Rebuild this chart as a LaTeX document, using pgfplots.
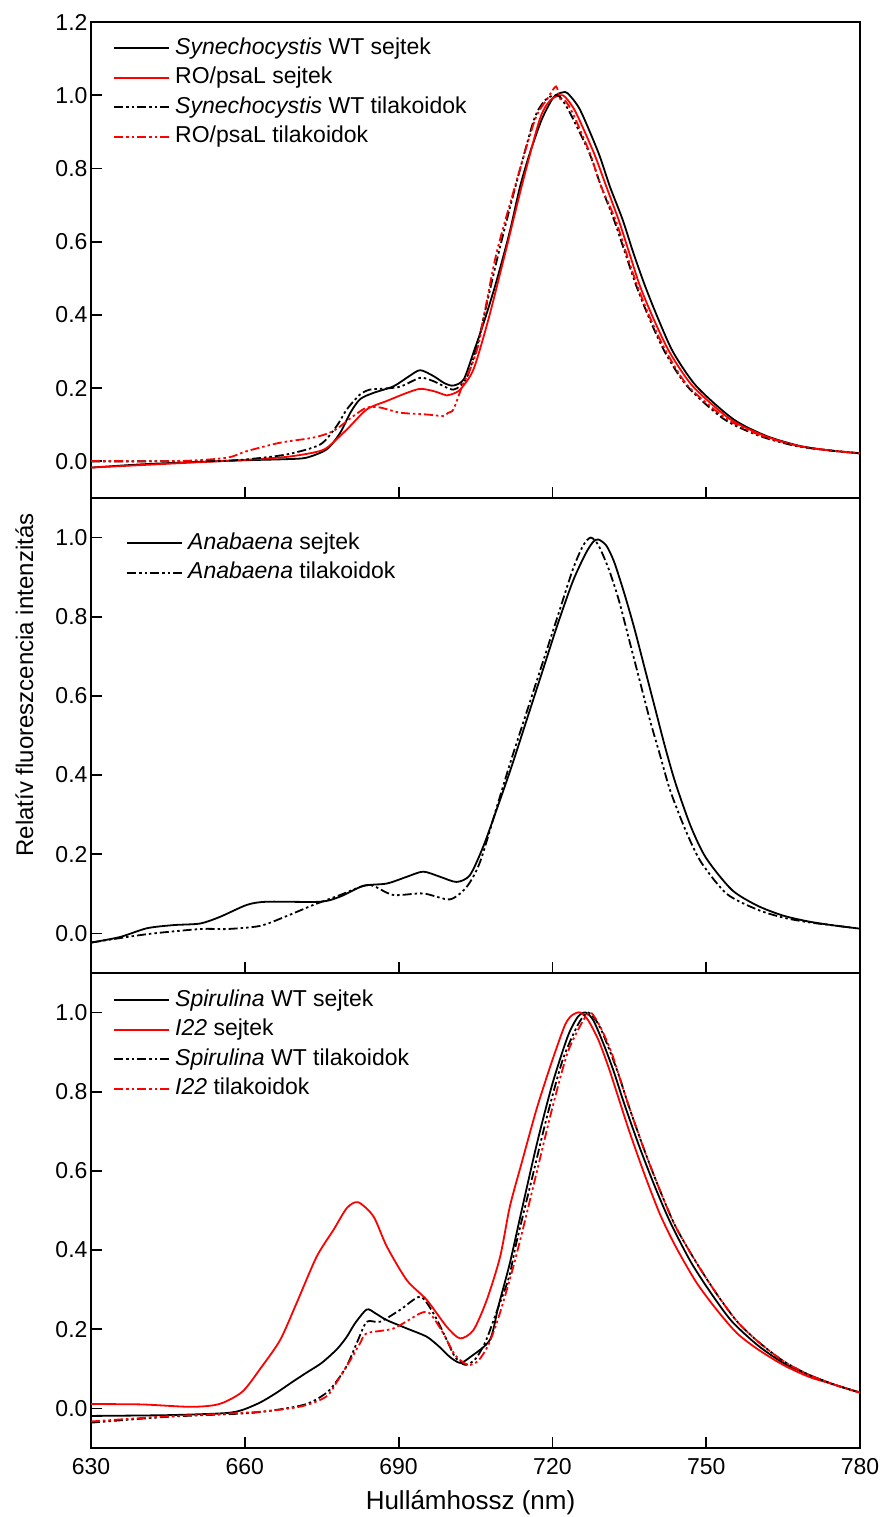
\documentclass[border=0pt]{standalone}
\usepackage{fontspec}
\setmainfont{Liberation Sans}
\usepackage{pgfplots}
\pgfplotsset{compat=1.18}
\tikzset{dd/.style={dash pattern=on 9pt off 3pt on 2.5pt off 3pt on 2.5pt off 3pt}}
\pgfplotsset{
  panel/.style={
    scale only axis, width=769pt, xmin=630, xmax=780,
    axis line style={line width=1.8pt},
    every tick/.style={line width=1.8pt, black},
    major tick length=11pt, tick align=inside,
    xtick={630,660,690,720,750,780}, xtick pos=left, ytick pos=left,
    ticklabel style={font=\fontsize{23}{27}\selectfont},
    /pgf/number format/assume math mode=true,
    yticklabel style={/pgf/number format/.cd, fixed, fixed zerofill, precision=1},
    xticklabel style={yshift=-7pt},
    legend style={draw=none, fill=none, at={(0,1)}, anchor=north west,
      font=\fontsize{23}{27}\selectfont, nodes={text height=17pt, text depth=5pt, inner sep=0pt},
      row sep=7.5pt, column sep=5pt},
    legend cell align=left,
    legend image code/.code={\draw[#1, line width=2pt] (0pt,0pt) -- (55pt,0pt);},
  },
  cv/.style={line width=1.8pt, mark=none, smooth, tension=0.45}
}
\begin{document}
\begin{tikzpicture}
\path[use as bounding box] (0,0) rectangle (882pt,1517pt);
% ---------------- top panel
\begin{axis}[panel, at={(91pt,1019pt)}, anchor=south west, height=476pt,
  ymin=-0.1, ymax=1.2, ytick={0,0.2,0.4,0.6,0.8,1.0,1.2}, xticklabels={},
  legend style={xshift=19pt, yshift=-13pt}]
\addplot[black, cv] coordinates {(630,-0.017)(640,-0.008)(650,-0.002)(660,0.003)(668,0.006)(672,0.010)(676,0.033)(678.6,0.078)(680.6,0.133)(682.5,0.170)(685.1,0.187)(689,0.205)(692,0.232)(694.2,0.249)(696.8,0.233)(699,0.213)(700.7,0.207)(702.7,0.224)(704.6,0.297)(706.8,0.387)(708.8,0.478)(710.6,0.569)(711.9,0.640)(713.7,0.751)(715.6,0.842)(717.9,0.933)(719.9,0.988)(721,1.003)(722.1,1.008)(723,1.005)(725.4,0.960)(729,0.842)(731.2,0.751)(733.7,0.660)(735.8,0.569)(738.1,0.478)(740.7,0.387)(743.6,0.297)(748.1,0.205)(755.3,0.115)(761.8,0.069)(768.3,0.042)(774,0.030)(780,0.022)};
\addlegendentry{\textit{Synechocystis} WT sejtek}
\addplot[red, cv] coordinates {(630,-0.017)(640,-0.010)(650,-0.003)(660,0.004)(668,0.012)(673.4,0.024)(676,0.037)(679.9,0.087)(683.8,0.142)(687.7,0.165)(691.6,0.187)(694.2,0.198)(696.8,0.192)(699.4,0.180)(700.3,0.183)(702,0.196)(704.6,0.251)(707.5,0.387)(710.8,0.569)(714.0,0.751)(717.5,0.933)(719.5,0.985)(721.5,1.0)(722.5,0.995)(724.5,0.955)(728.1,0.842)(730.5,0.751)(732.9,0.660)(735,0.569)(737.1,0.478)(739.8,0.387)(742.9,0.297)(747.4,0.205)(754.7,0.115)(761.5,0.069)(768,0.042)(774,0.030)(780,0.022)};
\addlegendentry{RO/psaL sejtek}
\addplot[black, dd, cv] coordinates {(630,0.0)(640,0.0)(653.9,0.001)(660,0.005)(668.2,0.019)(674.7,0.046)(677.9,0.096)(679.9,0.142)(682.5,0.183)(684.4,0.196)(686.4,0.198)(690.3,0.204)(694.2,0.228)(696.8,0.219)(700.7,0.196)(703.3,0.229)(705.6,0.33)(706.5,0.387)(709.5,0.569)(712.8,0.751)(716.4,0.933)(718.5,0.985)(720.3,1.0)(721.5,0.995)(723.5,0.95)(727.2,0.842)(729.5,0.751)(732,0.660)(734.2,0.569)(736.4,0.478)(739,0.387)(742,0.297)(746.3,0.205)(753.5,0.115)(760.5,0.069)(767.5,0.042)(774,0.030)(780,0.022)};
\addlegendentry{\textit{Synechocystis} WT tilakoidok}
\addplot[red, dd, cv] coordinates {(630,0.001)(647.4,0.001)(656.5,0.010)(660.4,0.028)(666.9,0.051)(673.4,0.065)(677.3,0.083)(681.2,0.124)(683.8,0.147)(686.4,0.147)(690.3,0.133)(695.5,0.128)(698.7,0.124)(699.7,0.133)(700.7,0.142)(702.4,0.205)(704.2,0.26)(705.6,0.32)(706.5,0.387)(709.1,0.569)(712.7,0.751)(716.6,0.933)(719,0.99)(720.7,1.024)(721.5,0.99)(722.5,0.985)(724,0.95)(727.3,0.842)(729.5,0.751)(732.3,0.660)(734.4,0.569)(736.6,0.478)(739.2,0.387)(742.3,0.297)(746.5,0.205)(754.1,0.115)(761,0.069)(768,0.042)(774,0.030)(780,0.022)};
\addlegendentry{RO/psaL tilakoidok}
\end{axis}
% ---------------- middle panel
\begin{axis}[panel, at={(91pt,544pt)}, anchor=south west, height=475pt,
  ymin=-0.1, ymax=1.1, ytick={0,0.2,0.4,0.6,0.8,1.0}, xticklabels={},
  legend style={xshift=32pt, yshift=-32pt}]
\addplot[black, cv] coordinates {(630.1,-0.023)(635.7,-0.009)(640.9,0.013)(646.1,0.021)(651.3,0.025)(655.2,0.042)(660.4,0.072)(664.3,0.080)(674.7,0.080)(678.6,0.093)(683.1,0.120)(687.7,0.126)(691.6,0.143)(694.8,0.156)(698.1,0.143)(701.3,0.130)(703.9,0.147)(706.5,0.219)(709.1,0.312)(712,0.42)(715,0.54)(718,0.66)(721,0.78)(724,0.89)(726.5,0.96)(728,0.99)(729,0.995)(730.5,0.98)(732,0.94)(734,0.86)(736,0.77)(738,0.67)(740,0.57)(742,0.47)(744,0.38)(747,0.27)(750,0.19)(755,0.11)(760,0.07)(765,0.045)(770,0.03)(775,0.02)(780,0.012)};
\addlegendentry{\textit{Anabaena} sejtek}
\addplot[black, dd, cv] coordinates {(630.1,-0.023)(640.9,-0.002)(651.3,0.011)(656.5,0.011)(663,0.019)(668.2,0.044)(673.4,0.072)(678.6,0.097)(683.1,0.120)(685.1,0.120)(689,0.097)(694.8,0.101)(700,0.086)(703.3,0.118)(705.9,0.181)(709.4,0.33)(712,0.44)(715,0.56)(718,0.68)(721,0.80)(724,0.92)(726,0.98)(727.5,1.0)(729,0.98)(731,0.92)(733,0.84)(735,0.74)(737,0.64)(739,0.54)(741,0.45)(743,0.36)(746,0.26)(749,0.18)(754,0.10)(760,0.06)(765,0.04)(770,0.028)(775,0.02)(780,0.012)};
\addlegendentry{\textit{Anabaena} tilakoidok}
\end{axis}
% ---------------- bottom panel
\begin{axis}[panel, at={(91pt,69pt)}, anchor=south west, height=475pt,
  ymin=-0.1, ymax=1.1, ytick={0,0.2,0.4,0.6,0.8,1.0},
  legend style={xshift=19pt, yshift=-14pt}]
\addplot[black, cv] coordinates {(630,-0.019)(645,-0.017)(656.1,-0.012)(659.5,-0.004)(663,0.015)(666,0.038)(669.3,0.067)(672,0.09)(675,0.115)(678,0.15)(679.9,0.181)(681.5,0.215)(683.8,0.25)(685.5,0.24)(687.7,0.223)(691.6,0.202)(695.5,0.181)(698,0.155)(700,0.13)(702,0.115)(704,0.13)(707.8,0.173)(709.5,0.26)(711.7,0.367)(714,0.5)(717,0.67)(720,0.82)(723,0.94)(725,0.99)(726.5,1.0)(728,0.98)(730,0.92)(732,0.85)(734,0.77)(737,0.66)(740,0.56)(743,0.47)(747,0.37)(751,0.29)(755,0.22)(760,0.16)(765,0.115)(770,0.085)(775,0.06)(780,0.04)};
\addlegendentry{\textit{Spirulina} WT sejtek}
\addplot[red, cv] coordinates {(630,0.011)(640,0.010)(649.5,0.004)(655,0.011)(659.5,0.042)(663,0.10)(666.9,0.173)(670.1,0.266)(674,0.383)(677.3,0.451)(679.9,0.506)(682.1,0.521)(685.1,0.485)(687.7,0.409)(691.6,0.324)(695.5,0.274)(699.4,0.206)(702,0.177)(704.6,0.198)(707.2,0.274)(709.8,0.383)(711.7,0.51)(714,0.62)(717,0.76)(720,0.88)(722.5,0.97)(724,0.995)(725.5,1.0)(727,0.98)(729,0.93)(731,0.86)(733,0.78)(735,0.70)(738,0.59)(741,0.49)(744,0.41)(748,0.32)(752,0.25)(756,0.19)(760,0.15)(765,0.11)(770,0.08)(775,0.06)(780,0.04)};
\addlegendentry{\textit{I22} sejtek}
\addplot[black, dd, cv] coordinates {(630,-0.036)(645.2,-0.021)(661.6,-0.011)(671.5,0.009)(675.9,0.039)(678.1,0.072)(680,0.11)(682,0.17)(683.8,0.219)(686.4,0.219)(690.3,0.249)(694.2,0.282)(696.8,0.24)(699.4,0.173)(701,0.13)(703,0.11)(705,0.125)(707,0.17)(709,0.24)(711.5,0.33)(713,0.42)(716,0.58)(719,0.74)(722,0.88)(725,0.97)(727,1.0)(729,0.97)(731,0.91)(733,0.84)(735,0.76)(738,0.65)(741,0.55)(744,0.46)(748,0.37)(752,0.29)(756,0.22)(760,0.17)(765,0.12)(770,0.085)(775,0.06)(780,0.04)};
\addlegendentry{\textit{Spirulina} WT tilakoidok}
\addplot[red, dd, cv] coordinates {(630,-0.033)(645,-0.02)(662.3,-0.009)(671,0.005)(675.9,0.03)(678.1,0.07)(680.5,0.12)(682.5,0.165)(683.8,0.19)(689,0.202)(694.2,0.24)(696.1,0.24)(698.7,0.19)(701,0.135)(703.5,0.11)(705.5,0.12)(707.5,0.16)(709.5,0.23)(712,0.34)(714,0.44)(717,0.6)(720,0.76)(723,0.9)(726,0.98)(727.5,1.0)(729.5,0.96)(731.5,0.9)(733,0.84)(735,0.76)(738,0.65)(741,0.55)(744,0.46)(748,0.37)(752,0.29)(756,0.22)(760,0.17)(765,0.12)(770,0.085)(775,0.06)(780,0.04)};
\addlegendentry{\textit{I22} tilakoidok}
\end{axis}
\node[rotate=90, anchor=base, font=\fontsize{24}{28}\selectfont] at (33pt,832pt) {Relatív fluoreszcencia intenzitás};
\node[anchor=base, font=\fontsize{26}{30}\selectfont] at (470.5pt,7pt) {Hullámhossz (nm)};
\end{tikzpicture}
\end{document}
